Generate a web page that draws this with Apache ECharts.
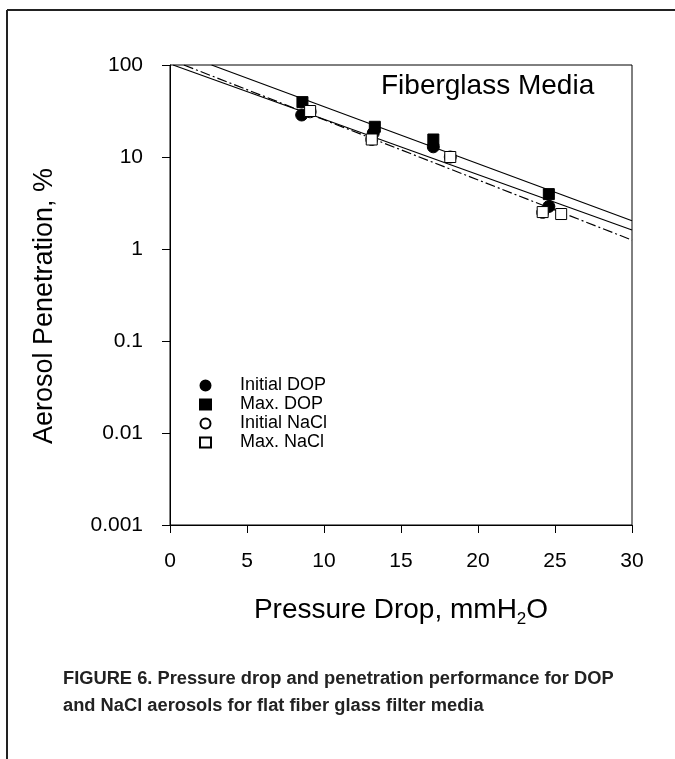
<!DOCTYPE html>
<html><head><meta charset="utf-8">
<script src="https://cdn.jsdelivr.net/npm/echarts@6/dist/echarts.min.js"></script>
<style>html,body{margin:0;padding:0;background:#fff}#c{width:675px;height:759px}</style>
</head><body><div id="c"></div>
<script>
var initialDOP = [[8.55, 28.6], [13.2, 18.2], [17.1, 12.9], [24.6, 2.9]];
var maxDOP = [[8.6, 39.5], [13.3, 21.3], [17.1, 15.5], [24.6, 3.95]];
var initialNaCl = [[9.1, 31], [13.1, 15.5], [18.2, 10], [24.2, 2.5]];
var maxNaCl = [[9.1, 31.6], [13.1, 15.5], [18.2, 10], [24.2, 2.52], [25.4, 2.4]];
var fitUpper = [[2.7, 100], [30, 2.03]];
var fitMiddle = [[0.2, 100], [30, 1.61]];
var fitDashDot = [[0.9, 100], [30, 1.25]];
var xTicks = [0, 5, 10, 15, 20, 25, 30];
var yTicks = ['0.001', '0.01', '0.1', '1', '10', '100'];

var F = 'Liberation Sans, Arial, sans-serif';
var chart = echarts.init(document.getElementById('c'));
function sc(name, data, symbol, filled, z) {
  return {type: 'scatter', name: name, data: data, symbol: symbol, symbolSize: symbol === 'rect' ? 11 : 12, z: z,
    itemStyle: {color: filled ? '#000' : '#fff', borderColor: '#000', borderWidth: 1, opacity: 1}};
}
function ln(data, dash) {
  return {type: 'line', data: data, showSymbol: false, symbol: 'none', z: 1, silent: true,
    lineStyle: {color: '#000', width: 1.2, type: dash ? [10, 3, 2, 3] : 'solid'}};
}
chart.setOption({
  animation: false,
  backgroundColor: '#fff',
  grid: {left: 170, top: 65, right: 43, bottom: 234, show: true, borderColor: '#000', borderWidth: 1, backgroundColor: 'transparent'},
  xAxis: {type: 'value', min: 0, max: 30, interval: 5,
    name: '{a|Pressure Drop, mmH}{s|2}{a|O}', nameLocation: 'middle', nameGap: 67,
    nameTextStyle: {rich: {a: {fontFamily: F, fontSize: 28, color: '#000'}, s: {fontFamily: F, fontSize: 17, color: '#000', verticalAlign: 'bottom', padding: [19, 0, 0, 0]}}},
    axisLine: {lineStyle: {color: '#000'}}, axisTick: {length: 8, lineStyle: {color: '#000'}},
    axisLabel: {fontFamily: F, fontSize: 21, color: '#000', margin: 26, formatter: function (v) { return xTicks.indexOf(v) >= 0 ? String(v) : ''; }},
    splitLine: {show: false}},
  yAxis: {type: 'log', logBase: 10, min: 0.001, max: 100,
    axisLine: {lineStyle: {color: '#000'}}, axisTick: {length: 8, lineStyle: {color: '#000'}},
    axisLabel: {fontFamily: F, fontSize: 21, color: '#000', margin: 27, formatter: function (v) {
      var e = Math.round(Math.log10(v)); return yTicks[e + 3] || ''; }},
    splitLine: {show: false}, minorTick: {show: false}},
  legend: {orient: 'vertical', left: 199, top: 376, itemGap: 0, itemWidth: 11, itemHeight: 10, padding: 0,
    data: ['Initial DOP', 'Max. DOP', 'Initial NaCl', 'Max. NaCl'],
    textStyle: {fontFamily: F, fontSize: 18, color: '#000', lineHeight: 19, padding: [0, 0, 0, 24]}},
  series: [
    ln(fitUpper, false), ln(fitMiddle, false), ln(fitDashDot, true),
    sc('Initial NaCl', initialNaCl, 'circle', false, 2),
    sc('Initial DOP', initialDOP, 'circle', true, 3),
    sc('Max. DOP', maxDOP, 'rect', true, 4),
    sc('Max. NaCl', maxNaCl, 'rect', false, 5)
  ],
  graphic: [
    {type: 'text', left: 381, top: 72, style: {text: 'Fiberglass Media', font: '28px ' + F, fill: '#000'}},
    {type: 'text', x: 45, y: 306, rotation: Math.PI / 2, style: {text: 'Aerosol Penetration, %', font: '27px ' + F, fill: '#000', align: 'center', verticalAlign: 'middle'}},
    {type: 'line', shape: {x1: 7, y1: 10, x2: 675, y2: 10}, style: {stroke: '#222', lineWidth: 2}},
    {type: 'line', shape: {x1: 7, y1: 10, x2: 7, y2: 759}, style: {stroke: '#222', lineWidth: 2}},
    {type: 'text', left: 63, top: 665, style: {text: 'FIGURE 6. Pressure drop and penetration performance for DOP\nand NaCl aerosols for flat fiber glass filter media',
      font: 'bold 18.3px "Liberation Sans Narrow", "Arial Narrow", sans-serif', fill: '#222', lineHeight: 27}}
  ]
});
</script></body></html>
